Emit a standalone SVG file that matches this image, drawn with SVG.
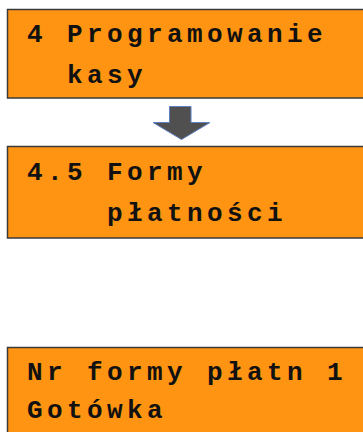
<svg xmlns="http://www.w3.org/2000/svg" width="363" height="432" viewBox="0 0 363 432">
<style>
.box{fill:#ff9412;stroke:#3a3a3a;stroke-width:1.5}
.t{font-family:"Liberation Mono","DejaVu Sans Mono",monospace;font-weight:bold;font-size:26px;letter-spacing:4.4px;fill:#111;white-space:pre}
</style>
<rect width="363" height="432" fill="#ffffff"/>
<g id="node1">
<rect class="box" x="7.5" y="9.5" width="370" height="88.5"/>
<text class="t" x="27" y="42" xml:space="preserve">4 Programowanie</text>
<text class="t" x="27" y="83" xml:space="preserve">  kasy</text>
</g>
<g id="connectors">
<path d="M169.5 106.5 H191 V122.5 H210 L181.5 139.5 L153 122.5 H169.5 Z" fill="#505050" stroke="#5b7fbf" stroke-width="1"/>
</g>
<g id="node2">
<rect class="box" x="7.5" y="146.5" width="370" height="91.5"/>
<text class="t" x="27" y="180" xml:space="preserve">4.5 Formy</text>
<text class="t" x="27" y="221" xml:space="preserve">    płatności</text>
</g>
<g id="node3">
<rect class="box" x="7.5" y="347.5" width="370" height="100"/>
<text class="t" x="27" y="380" xml:space="preserve">Nr formy płatn 1</text>
<text class="t" x="27" y="418" xml:space="preserve">Gotówka</text>
</g>
</svg>
